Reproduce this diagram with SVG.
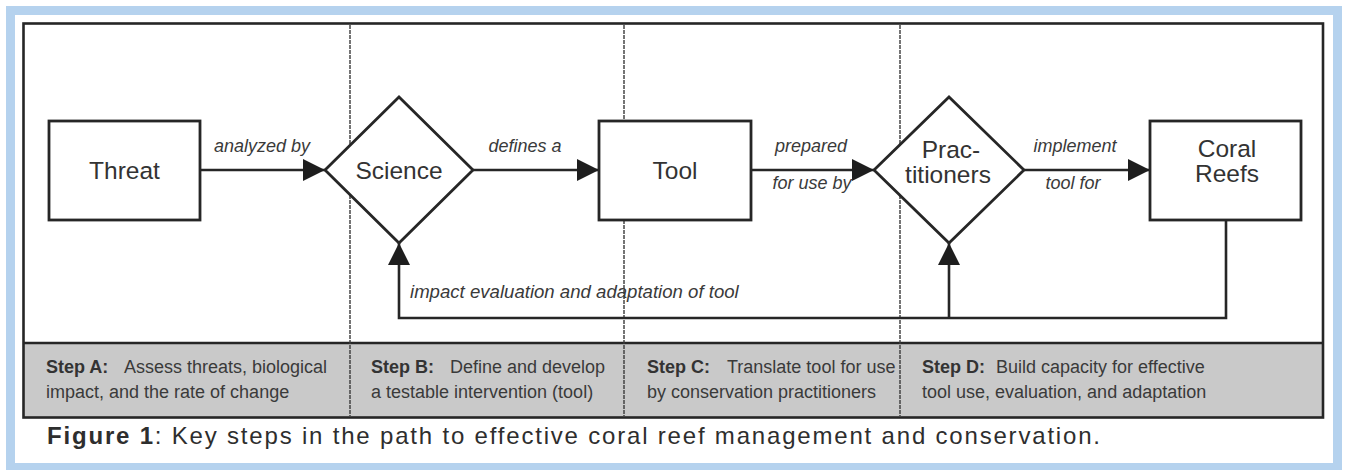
<svg xmlns="http://www.w3.org/2000/svg" width="1348" height="470" viewBox="0 0 1348 470">
<style>
.ln{stroke:#262626;stroke-width:2.6;fill:none}
.nd{stroke:#262626;stroke-width:2.8;fill:#fff}
.dv{stroke:#3a3a3a;stroke-width:1.4;stroke-dasharray:4 1;fill:none}
.nt{font-family:"Liberation Sans",Arial,sans-serif;font-size:24.5px;fill:#333;text-anchor:middle}
.el{font-family:"Liberation Sans",Arial,sans-serif;font-size:18px;font-style:italic;fill:#3a3a3a;text-anchor:middle}
.st{font-family:"Liberation Sans",Arial,sans-serif;font-size:18px;fill:#3a3a3a}
.sb{font-weight:bold;fill:#333}
.cap{font-family:"Liberation Sans",Arial,sans-serif;font-size:24px;fill:#2e2e2e}
</style>
<defs>
<marker id="ah" markerUnits="userSpaceOnUse" markerWidth="24" markerHeight="24" refX="22" refY="11" orient="auto">
<path d="M0,0 L22,11 L0,22 Z" fill="#1e1e1e"/>
</marker>
</defs>
<rect x="0" y="0" width="1348" height="470" fill="#fff"/>
<rect x="10.5" y="10.5" width="1327" height="457" fill="none" stroke="#b5d2ee" stroke-width="9"/>
<g id="frame">
<rect x="23.5" y="343" width="1299.5" height="74.5" fill="#c9c9c9"/>
<rect x="23.5" y="23.5" width="1299.5" height="394" fill="none" stroke="#262626" stroke-width="2.6"/>
<line x1="23.5" y1="343" x2="1323" y2="343" stroke="#262626" stroke-width="2.6"/>
<line class="dv" x1="350" y1="25" x2="350" y2="416"/>
<line class="dv" x1="624" y1="25" x2="624" y2="416"/>
<line class="dv" x1="900" y1="25" x2="900" y2="416"/>
</g>
<g id="connectors">
<line class="ln" x1="200" y1="170" x2="325" y2="170" marker-end="url(#ah)"/>
<line class="ln" x1="473" y1="170" x2="599" y2="170" marker-end="url(#ah)"/>
<line class="ln" x1="751" y1="170" x2="874" y2="170" marker-end="url(#ah)"/>
<line class="ln" x1="1024" y1="170" x2="1150" y2="170" marker-end="url(#ah)"/>
<path class="ln" d="M1226,220 V318 H399 V243" marker-end="url(#ah)"/>
<path class="ln" d="M949,318 V243" marker-end="url(#ah)"/>
<text class="el" x="262" y="152">analyzed by</text>
<text class="el" x="525" y="152">defines a</text>
<text class="el" x="811" y="152">prepared</text>
<text class="el" x="812" y="189">for use by</text>
<text class="el" x="1075" y="152">implement</text>
<text class="el" x="1073" y="189">tool for</text>
<text class="el" x="410" y="298" style="text-anchor:start;font-size:18.6px">impact evaluation and adaptation of tool</text>
</g>
<g id="threat">
<rect class="nd" x="49" y="121" width="151" height="99"/>
<text class="nt" x="124.5" y="179">Threat</text>
</g>
<g id="science">
<polygon class="nd" points="325,170 399,97 473,170 399,243"/>
<text class="nt" x="399" y="179">Science</text>
</g>
<g id="tool">
<rect class="nd" x="599" y="121" width="152" height="99"/>
<text class="nt" x="675" y="179">Tool</text>
</g>
<g id="practitioners">
<polygon class="nd" points="874,170 949,97 1024,170 949,243"/>
<text class="nt" x="951" y="158">Prac-</text>
<text class="nt" x="948" y="183">titioners</text>
</g>
<g id="coral-reefs">
<rect class="nd" x="1150" y="121" width="151" height="99"/>
<text class="nt" x="1227" y="157">Coral</text>
<text class="nt" x="1227" y="182">Reefs</text>
</g>
<g id="steps">
<text class="st" x="46" y="373"><tspan class="sb">Step A:</tspan><tspan x="124">Assess threats, biological</tspan></text>
<text class="st" x="46" y="398">impact, and the rate of change</text>
<text class="st" x="371" y="373"><tspan class="sb">Step B:</tspan><tspan x="450">Define and develop</tspan></text>
<text class="st" x="371" y="398">a testable intervention (tool)</text>
<text class="st" x="647" y="373"><tspan class="sb">Step C:</tspan><tspan x="727">Translate tool for use</tspan></text>
<text class="st" x="647" y="398">by conservation practitioners</text>
<text class="st" x="922" y="373"><tspan class="sb">Step D:</tspan><tspan x="996">Build capacity for effective</tspan></text>
<text class="st" x="922" y="398">tool use, evaluation, and adaptation</text>
</g>
<text class="cap" x="47" y="444" textLength="1053" lengthAdjust="spacing"><tspan font-weight="bold">Figure 1</tspan>: Key steps in the path to effective coral reef management and conservation.</text>
</svg>
